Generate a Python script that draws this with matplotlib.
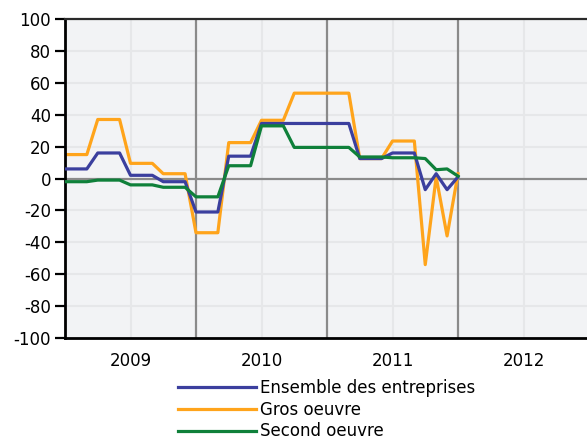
import matplotlib
matplotlib.use("Agg")
import matplotlib.pyplot as plt

plt.rcParams.update({
    "font.family": "DejaVu Sans",
    "font.size": 12,
    "axes.unicode_minus": False,
})

# Monthly values, Jan 2009 (month 0) to Jan 2012 (month 36)
months = list(range(37))
ensemble = [6, 6, 6, 16, 16, 16, 2, 2, 2, -2, -2, -2,
            -21, -21, -21, 14, 14, 14, 34.5, 34.5, 34.5, 34.5, 34.5, 34.5,
            34.5, 34.5, 34.5, 12.5, 12.5, 12.5, 16, 16, 16, -7, 3, -7, 1]
gros_oeuvre = [15, 15, 15, 37, 37, 37, 9.5, 9.5, 9.5, 3, 3, 3,
               -34, -34, -34, 22.5, 22.5, 22.5, 36.5, 36.5, 36.5, 53.5, 53.5, 53.5,
               53.5, 53.5, 53.5, 12.5, 12.5, 12.5, 23.5, 23.5, 23.5, -54, 1, -36, 3]
second_oeuvre = [-2, -2, -2, -1, -1, -1, -4, -4, -4, -5.5, -5.5, -5.5,
                 -11.5, -11.5, -11.5, 8, 8, 8, 33, 33, 33, 19.5, 19.5, 19.5,
                 19.5, 19.5, 19.5, 13.5, 13.5, 13.5, 13, 13, 13, 12.5, 5.5, 6, 1.5]

year_labels = ["2009", "2010", "2011", "2012"]
year_mid = [6, 18, 30, 42]
year_bounds = [12, 24, 36]

COL_BLUE = "#3b3f9e"
COL_ORANGE = "#ffa41b"
COL_GREEN = "#0f803a"
COL_BG = "#f2f3f5"
COL_GRID = "#e6e7e9"
COL_DARK = "#8a8a8a"

W, H = 587, 442
fig = plt.figure(figsize=(W / 100, H / 100), dpi=100)
ax = fig.add_axes([65 / W, (H - 338) / H, 524 / W, 319 / H])
ax.set_facecolor(COL_BG)

# light grid
for y in range(-80, 101, 20):
    if y != 0:
        ax.axhline(y, color=COL_GRID, linewidth=1.5, zorder=0)
for x in year_mid:
    ax.axvline(x, color=COL_GRID, linewidth=1.5, zorder=0)
# dark reference lines
ax.axhline(0, color=COL_DARK, linewidth=1.6, zorder=1)
for x in year_bounds:
    ax.axvline(x, color=COL_DARK, linewidth=1.6, zorder=1)

l1, = ax.plot(months, ensemble, color=COL_BLUE, linewidth=2.3, zorder=3)
l2, = ax.plot(months, gros_oeuvre, color=COL_ORANGE, linewidth=2.3, zorder=2)
l3, = ax.plot(months, second_oeuvre, color=COL_GREEN, linewidth=2.3, zorder=4)

ax.set_xlim(0, 48)
ax.set_ylim(-100, 100)
ax.set_yticks(range(-100, 101, 20))
ax.set_xticks(year_mid)
ax.set_xticklabels(year_labels)
ax.tick_params(axis="x", length=0, pad=10)
ax.tick_params(axis="y", length=7, width=1.6, direction="out", pad=3)

ax.spines["left"].set_linewidth(2.0)
ax.spines["bottom"].set_linewidth(2.0)
ax.spines["top"].set_linewidth(1.6)
ax.spines["top"].set_color("#2a2a2a")
ax.spines["right"].set_visible(False)

fig.legend(
    handles=[l1, l2, l3],
    labels=["Ensemble des entreprises", "Gros oeuvre", "Second oeuvre"],
    loc="upper left", bbox_to_anchor=(178 / W, 1 - 379 / H),
    frameon=False, borderpad=0, borderaxespad=0,
    handlelength=4.7, handletextpad=0.2, labelspacing=0.22,
    fontsize=12,
)

fig.savefig("out.png", dpi=100)
